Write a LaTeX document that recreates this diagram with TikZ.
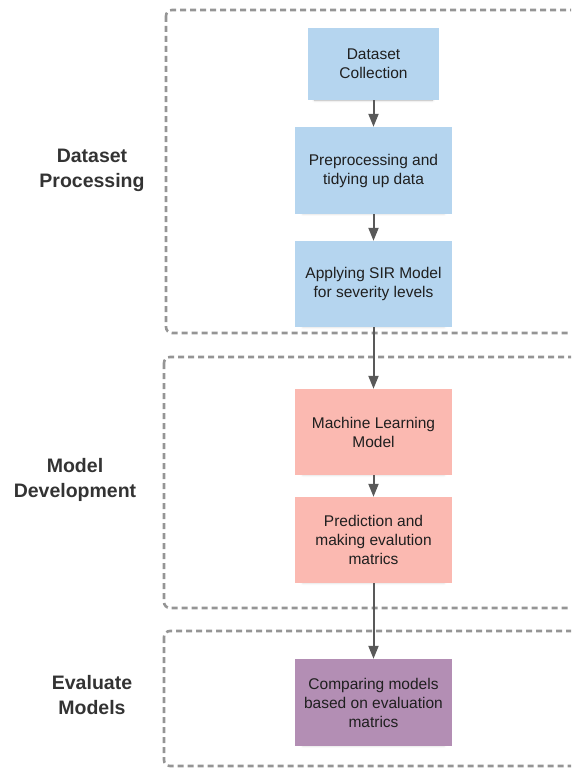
\documentclass[tikz,border=0pt]{standalone}
\usepackage{fontspec}
\setmainfont{Liberation Sans}
\usetikzlibrary{arrows.meta,shadows.blur}
\definecolor{boxblue}{HTML}{B5D5EF}
\definecolor{boxred}{HTML}{FBB9B1}
\definecolor{boxpurple}{HTML}{B38EB4}
\definecolor{arrowgray}{HTML}{595959}
\definecolor{dashgray}{HTML}{959595}
\definecolor{labelgray}{HTML}{333333}
\begin{document}
\begin{tikzpicture}[x=1pt,y=-1pt,
  stagebox/.style={draw=dashgray,line width=2.6pt,dash pattern=on 6pt off 4pt,rounded corners=6pt},
  procbox/.style={rectangle,draw=none,minimum width=157pt,minimum height=86pt,align=center,
    text=black!88,font=\fontsize{15.5}{19}\selectfont,inner sep=2pt,
    blur shadow={shadow xshift=0pt,shadow yshift=-4pt,shadow scale=0.9,shadow blur radius=3pt,shadow opacity=30}},
  stagelabel/.style={align=center,text=labelgray,font=\fontsize{19.5}{25}\selectfont\bfseries},
  flow/.style={draw=arrowgray,line width=2pt,-{Triangle[width=10pt,length=13pt]}}]
\useasboundingbox (0,0) rectangle (571,768);
\begin{scope}
\clip (0,0) rectangle (571,768);
\draw[stagebox] (166,10) rectangle (600,333);
\draw[stagebox] (164,357) rectangle (600,608);
\draw[stagebox] (164,631) rectangle (600,766);
\end{scope}
\node[stagelabel] (l1) at (92,170) {Dataset\\Processing};
\node[stagelabel] (l2) at (75,480) {Model\\Development};
\node[stagelabel] (l3) at (92,695) {Evaluate\\Models};
\node[procbox,fill=boxblue,minimum width=131pt,minimum height=72pt] (b1) at (373.5,64) {Dataset\\Collection};
\node[procbox,fill=boxblue,minimum height=87pt] (b2) at (373.5,170.5) {Preprocessing and\\tidying up data};
\node[procbox,fill=boxblue] (b3) at (373.5,284) {Applying SIR Model\\for severity levels};
\node[procbox,fill=boxred] (b4) at (373.5,432) {Machine Learning\\Model};
\node[procbox,fill=boxred] (b5) at (373.5,540) {Prediction and\\making evalution\\matrics};
\node[procbox,fill=boxpurple,minimum height=87pt] (b6) at (373.5,702.5) {Comparing models\\based on evaluation\\matrics};
\draw[flow] (b1) -- (b2);
\draw[flow] (b2) -- (b3);
\draw[flow] (b3) -- (b4);
\draw[flow] (b4) -- (b5);
\draw[flow] (b5) -- (b6);
\end{tikzpicture}
\end{document}
